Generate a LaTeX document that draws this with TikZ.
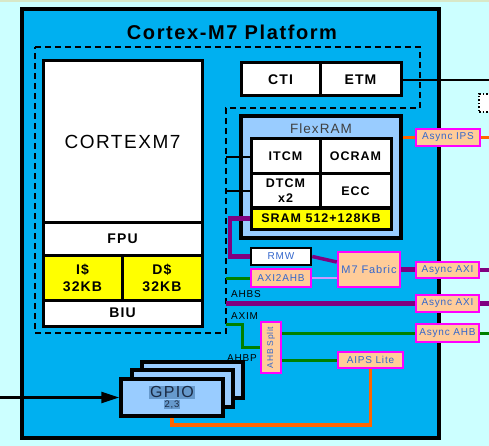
\documentclass[tikz,border=0pt]{standalone}
\usepackage{fontspec}
\setmainfont[LetterSpace=8]{Liberation Sans}
\usetikzlibrary{arrows.meta}
\definecolor{bgc}{HTML}{CCFFFF}
\definecolor{topc}{HTML}{D8E8C8}
\definecolor{mainblue}{HTML}{00B0F0}
\definecolor{lblue}{HTML}{99CCFF}
\definecolor{peach}{HTML}{FFCC99}
\definecolor{mag}{HTML}{FF00FF}
\definecolor{purp}{HTML}{800080}
\definecolor{grn}{HTML}{008000}
\definecolor{orng}{HTML}{FF6600}
\definecolor{lav}{HTML}{CC99FF}
\definecolor{tblue}{HTML}{3366CC}
\definecolor{hl}{HTML}{6699CC}
\definecolor{ygold}{HTML}{FFFF00}
\definecolor{gtext}{HTML}{1A2A44}
\setlength{\fboxsep}{0.8pt}
\newcommand\mybox[7]{%
  \pgfmathsetmacro\bxw{#5-#3}\pgfmathsetmacro\bxh{#6-#4}%
  \pgfmathsetmacro\bxcx{(#3+#5)/2}\pgfmathsetmacro\bxcy{(#4+#6)/2}%
  \node[#1, minimum width=\bxw pt, minimum height=\bxh pt, anchor=center] (#2) at (\bxcx,\bxcy) {#7};}
\tikzset{
  cell/.style={draw, line width=3, fill=white, inner sep=0, align=center,
    font=\bfseries\fontsize{14}{17}\selectfont},
  icell/.style={cell, font=\bfseries\fontsize{12.5}{15}\selectfont},
  asy/.style={draw=mag, line width=2.5, fill=peach, inner sep=0, align=center,
    text=tblue, font=\fontsize{10}{12}\selectfont},
  gpiobox/.style={draw, line width=3.5, fill=lblue, inner sep=0},
  buslbl/.style={anchor=west, inner sep=0, font=\fontsize{10}{12}\selectfont},
  pbus/.style={purp, line width=4.5},
  gbus/.style={grn, line width=3},
  obus/.style={orng, line width=3.5},
  blk/.style={black, line width=2},
}
\begin{document}
\begin{tikzpicture}[x=1pt,y=-1pt]
\useasboundingbox (0,0) rectangle (489,446);
\fill[bgc] (0,0) rectangle (489,446);
\fill[topc] (0,0) rectangle (489,2.5);

% platform
\mybox{draw, line width=4.5, fill=mainblue, inner sep=0}{platform}{22}{9}{439}{438}{}
\node[font=\bfseries\fontsize{20}{24}\selectfont] (title) at (232,32) {Cortex-M7 Platform};

% dashed core region
\draw[line width=2, dash pattern=on 6pt off 4pt] (35,47) -- (420,47) -- (420,108) -- (226,108) -- (226,333) -- (35,333) -- cycle;

% Cortex-M7 core
\mybox{cell, font=\fontsize{19}{22}\selectfont}{core}{43}{61}{202}{222}{CORTEXM7}
\mybox{cell}{fpu}{43}{222}{202}{255}{FPU}
\mybox{cell, fill=ygold}{icache}{43}{255}{122}{300}{I\$\\32KB}
\mybox{cell, fill=ygold}{dcache}{122}{255}{202}{300}{D\$\\32KB}
\mybox{cell}{biu}{43}{300}{202}{326}{BIU}

% CTI / ETM
\mybox{cell}{cti}{241}{63}{320}{96}{CTI}
\mybox{cell}{etm}{320}{63}{401}{96}{ETM}

% FlexRAM
\mybox{draw, line width=3.5, fill=lblue, inner sep=0}{flexram}{241}{116}{401}{238}{}
\node[text=black!75, font=\fontsize{13.5}{16}\selectfont] (flexlbl) at (321,129) {FlexRAM};
\mybox{icell}{itcm}{251}{139}{320}{174}{ITCM}
\mybox{icell}{ocram}{320}{139}{391}{174}{OCRAM}
\mybox{icell}{dtcm}{251}{174}{320}{208}{DTCM\\x2}
\mybox{icell}{ecc}{320}{174}{391}{208}{ECC}
\mybox{icell, fill=ygold}{sram}{251}{208}{391}{229}{SRAM 512+128KB}

% right-side dotted box
\mybox{draw, dotted, line width=1.5, fill=white, inner sep=0}{ext}{479}{94}{497}{112}{}

% bridges
\mybox{asy}{aips}{416}{129}{480}{146}{Async IPS}
\mybox{draw, line width=2.5, fill=white, inner sep=0, text=tblue, font=\fontsize{10}{12}\selectfont}{rmw}{251}{248}{311}{265}{RMW}
\mybox{asy}{axi2ahb}{251}{269}{311}{287}{AXI2AHB}
\mybox{asy, font=\fontsize{11}{13}\selectfont}{fabric}{338}{252}{400}{287}{M7 Fabric}
\mybox{asy}{aaxi1}{416}{262}{479}{278}{Async AXI}
\mybox{asy}{aaxi2}{416}{295}{479}{312}{Async AXI}
\mybox{asy}{aahb}{416}{324}{479}{342}{Async AHB}
\mybox{asy, font=\fontsize{8.5}{9}\selectfont}{split}{261}{322}{281}{373}{\rotatebox{90}{AHB Split}}
\mybox{asy}{aipslite}{338}{352}{403}{368}{AIPS Lite}

% GPIO stack
\mybox{gpiobox}{gpio3}{142}{362}{243}{398}{}
\mybox{gpiobox}{gpio2}{132}{370}{233}{407}{}
\mybox{gpiobox, align=center, text=gtext}{gpio1}{121}{379}{223}{416}{{\fontsize{16}{15}\selectfont\colorbox{hl}{GPIO}}\\[-2.5pt]{\fontsize{9.5}{10}\selectfont\colorbox{hl}{2,3}}}

% bus labels
\node[buslbl] (ahbs) at (231,294) {AHBS};
\node[buslbl] (axim) at (231,316) {AXIM};
\node[buslbl] (ahbp) at (227,358) {AHBP};

% free ends
\coordinate (etmR) at (489,80);
\coordinate (ipsR) at (489,137.5);
\coordinate (axi1R) at (489,270);
\coordinate (axi2R) at (489,303.5);
\coordinate (ahbR) at (489,333);
\coordinate (itcmL) at (226,157);
\coordinate (dtcmL) at (226,191);
\coordinate (sramK) at (230,218.5);
\coordinate (rmwK) at (230,256.5);
\coordinate (axi2ahbL) at (226,278);
\coordinate (ahbsL) at (226,303.5);
\coordinate (aximL) at (226,324);
\coordinate (aximK1) at (242,324);
\coordinate (aximK2) at (242,347.5);
\coordinate (oK1) at (371,425);
\coordinate (oK2) at (172,425);
\coordinate (arrL) at (0,397.5);

% connectors
\draw[blk] (etm.east |- etmR) -- (etmR);
\draw[obus] (flexram.east |- aips.west) -- (aips.west);
\draw[obus] (aips.east) -- (ipsR);
\draw[blk] (itcmL) -- (itcm.west |- itcmL);
\draw[blk] (dtcmL) -- (dtcm.west |- dtcmL);
\draw[pbus] (sram.west) -- (sramK) -- (rmwK) -- (rmw.west);
\draw[purp, line width=3.5] (rmw.east) -- ([yshift=7.5pt]fabric.west);
\draw[lav, line width=2.5] (axi2ahb.east) -- ([yshift=-8.5pt]fabric.west);
\draw[gbus] (axi2ahbL) -- (axi2ahb.west);
\draw[pbus] (fabric.east) -- (aaxi1.west |- fabric.east);
\draw[pbus] (aaxi1.east) -- (axi1R);
\draw[pbus] (ahbsL) -- (aaxi2.west);
\draw[pbus] (aaxi2.east) -- (axi2R);
\draw[gbus] (aximL) -- (aximK1) -- (aximK2) -- (split.west |- aximK2);
\draw[gbus] (split.east |- aahb.west) -- (aahb.west);
\draw[gbus] (aahb.east) -- (ahbR);
\draw[gbus] (split.east |- aipslite.west) -- (aipslite.west);
\draw[obus] (aipslite.south) -- (aipslite.south |- oK1) -- (oK2) -- (gpio1.south);
\draw[black, line width=2.5, -{Triangle[length=18pt,width=11pt]}] (arrL) -- (gpio1.west);
\end{tikzpicture}
\end{document}
